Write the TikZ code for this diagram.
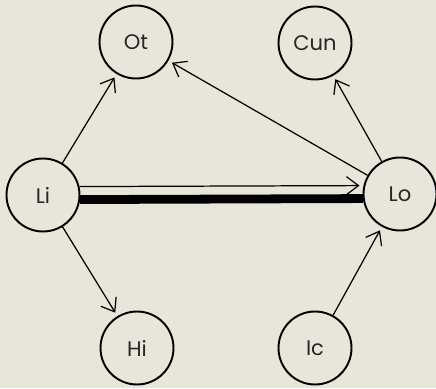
\documentclass[tikz,border=0pt]{standalone}
\usepackage{fontspec}
\setmainfont{Poppins}
\usepackage{tikz}
\usetikzlibrary{arrows.meta}
\definecolor{paper}{RGB}{232,230,218}

\begin{document}
\begin{tikzpicture}[
  taxon/.style={circle,draw,line width=1.1pt,minimum size=1.46cm,inner sep=0pt,font=\large,text=black!85},
  link/.style={-{Straight Barb[length=2.4mm,width=3.6mm,line width=0.7pt]},line width=0.7pt,shorten >=0.8mm}
]
\path[use as bounding box,fill=paper] (0,0) rectangle (8.72,7.76);
\node[taxon] (ot) at (2.72,6.92) {Ot};
\node[taxon] (cun) at (6.30,6.90) {Cun};
\node[taxon] (li) at (0.86,3.86) {Li};
\node[taxon] (lo) at (8.00,3.88) {Lo};
\node[taxon] (hi) at (2.74,0.80) {Hi};
\node[taxon] (ic) at (6.30,0.80) {Ic};
\draw[link] (li) -- (ot);
\draw[link] (li) -- (hi);
\draw[link] (lo) -- (ot);
\draw[link] (lo) -- (cun);
\draw[link] (ic) -- (lo);
\draw[link] (li.13) -- (lo.167);
\draw[line width=5pt] (li.-7) -- (lo.-173);
\end{tikzpicture}
\end{document}
